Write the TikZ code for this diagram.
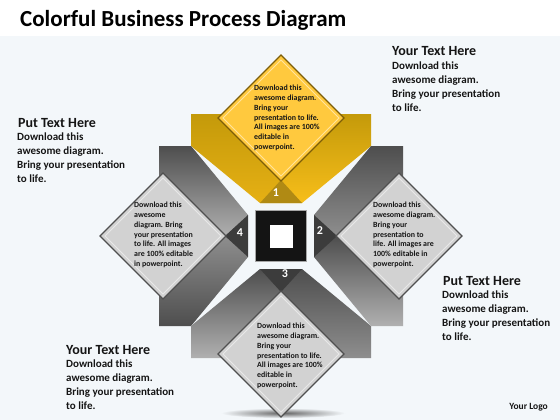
\documentclass[tikz,border=0pt]{standalone}
\usepackage{fontspec}
\setmainfont{Carlito}
\definecolor{bg}{HTML}{F3F7FA}
\definecolor{ydark}{HTML}{C49A0A}
\definecolor{ymid}{HTML}{E6B014}
\definecolor{ylight}{HTML}{F7BE1A}
\definecolor{ydiam}{HTML}{FFC93E}
\definecolor{yborder}{HTML}{7D5E08}
\definecolor{ytri}{HTML}{B08A14}
\definecolor{gdark}{HTML}{4E4E4E}
\definecolor{gmid}{HTML}{8E8E8E}
\definecolor{glight}{HTML}{B0B0B0}
\definecolor{gdiam}{HTML}{D2D2D2}
\definecolor{gborder}{HTML}{505050}
\definecolor{gtri}{HTML}{3C3C3C}
\definecolor{ink}{HTML}{151515}
\newcommand{\procunit}[8]{%
\begin{scope}[shift={(281,236)},rotate=#1]
 \shade[top color=#2,bottom color=#3] (-90,-122) -- (0,-122) -- (0,-33) -- (-21,-33) -- (-90,-90) -- cycle;
 \shade[top color=#4,bottom color=#5] (90,-122) -- (0,-122) -- (0,-33) -- (21,-33) -- (90,-90) -- cycle;
 \fill[#8] (0,-56) -- (-21,-33) -- (21,-33) -- cycle;
 \fill[#6,draw=#7,line width=1.2pt] (0,-181) -- (63,-118) -- (0,-55) -- (-63,-118) -- cycle;
 \draw[white,opacity=0.5,line width=0.8pt] (0,-176) -- (58,-118) -- (0,-60) -- (-58,-118) -- cycle;
\end{scope}}
\begin{document}
\begin{tikzpicture}[x=1pt,y=-1pt,
  heading/.style={anchor=north west,inner sep=0pt,text=ink,font=\bfseries\fontsize{14}{16}\selectfont},
  body/.style={anchor=north west,inner sep=0pt,text=ink,align=left,font=\bfseries\fontsize{11}{14}\selectfont},
  dtext/.style={anchor=north west,inner sep=0pt,text=ink,align=left,font=\bfseries\fontsize{7.9}{9.8}\selectfont},
  numlabel/.style={text=white,font=\bfseries\fontsize{12}{12}\selectfont,inner sep=0pt}]
\useasboundingbox (0,0) rectangle (560,420);
\fill[bg] (0,0) rectangle (560,420);
\fill[white] (0,0) rectangle (560,36);
\node[anchor=base west,inner sep=0pt,text=black,font=\bfseries\fontsize{23}{28}\selectfont] (title) at (20,27) {Colorful Business Process Diagram};
% shadow under bottom diamond
\shade[inner color=black!60,outer color=bg] (283,413) ellipse (62 and 5);
% units
\procunit{0}{ydark}{ymid}{ydark}{ylight}{ydiam}{yborder}{ytri}
\procunit{90}{gmid}{gdark}{gdark}{glight}{gdiam}{gborder}{gtri}
\procunit{180}{gdark}{gmid}{gdark}{glight}{gdiam}{gborder}{gtri}
\procunit{-90}{gdark}{gmid}{gdark}{glight}{gdiam}{gborder}{gtri}
% centre
\node[fill=black!92,draw=gray!70,line width=0.6pt,minimum size=51pt,inner sep=0pt] (ctr) at (281,236) {};
\node[fill=white,minimum size=23pt,inner sep=0pt] (ctrin) at (ctr.center) {};
% numbers
\node[numlabel] (n1) at (276,193) {1};
\node[numlabel] (n2) at (320,231) {2};
\node[numlabel] (n3) at (285,274) {3};
\node[numlabel] (n4) at (240,233) {4};
% diamond texts
\node[dtext] (d1) at (254,85) {Download this\\awesome diagram.\\Bring your\\presentation to life.\\All  images are 100\%\\editable in\\powerpoint.};
\node[dtext] (d4) at (134,202) {Download this\\awesome\\diagram. Bring\\your presentation\\to life.  All images\\are 100\% editable\\in powerpoint.};
\node[dtext] (d2) at (373,202) {Download this\\awesome diagram.\\Bring your\\presentation to\\life.  All images are\\100\% editable in\\powerpoint.};
\node[dtext] (d3) at (257,323) {Download this\\awesome diagram.\\Bring your\\presentation to life.\\All  images are 100\%\\editable in\\powerpoint.};
% side texts
\node[heading] (h1) at (392,46) {Your Text Here};
\node[body] (b1) at (392,62) {Download this\\awesome diagram.\\Bring your presentation\\to life.};
\node[heading] (h4) at (18,118) {Put Text Here};
\node[body] (b4) at (17,133) {Download this\\awesome diagram.\\Bring your presentation\\to life.};
\node[heading] (h2) at (443,276) {Put Text Here};
\node[body] (b2) at (442,291) {Download this\\awesome diagram.\\Bring your presentation\\to life.};
\node[heading] (h3) at (66,345) {Your Text Here};
\node[body] (b3) at (66,360) {Download this\\awesome diagram.\\Bring your presentation\\to life.};
\node[anchor=base east,inner sep=0pt,text=ink,font=\bfseries\fontsize{9.5}{10}\selectfont] (logo) at (548,409) {Your Logo};
\end{tikzpicture}
\end{document}
